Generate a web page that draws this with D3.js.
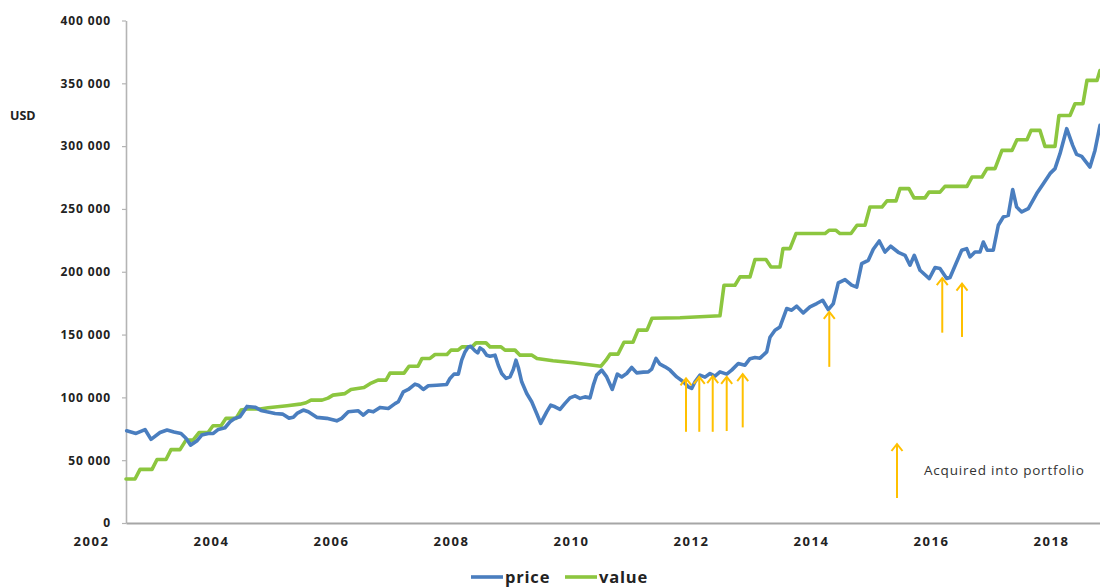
<!DOCTYPE html>
<html>
<head>
<meta charset="utf-8">
<script src="https://cdn.jsdelivr.net/npm/d3@7"></script>
<style>
    body { margin: 0; background: #fff; }
    #chart { width: 1100px; height: 588px; }
    text { font-family: "Open Sans", "DejaVu Sans", sans-serif; }
</style>
</head>
<body>
<div id="chart"></div>
<script>
// ==========================================
// Price vs portfolio value (USD), 2002 - 2018
// ==========================================

// 1. DATA (decimal years)
const priceYears = [2002.545,2002.70,2002.85,2002.95,2003.10,2003.217,2003.333,2003.45,2003.533,2003.608,
    2003.712,2003.795,2003.905,2003.988,2004.072,2004.183,2004.267,2004.35,2004.433,2004.55,
    2004.683,2004.783,2004.883,2005.017,2005.142,2005.25,2005.322,2005.383,2005.488,2005.572,
    2005.712,2005.878,2006.045,2006.128,2006.238,2006.405,2006.488,2006.572,2006.655,2006.767,
    2006.905,2007.017,2007.072,2007.155,2007.238,2007.35,2007.405,2007.488,2007.572,2007.712,
    2007.878,2007.933,2008.0,2008.072,2008.128,2008.183,2008.238,2008.278,2008.35,2008.395,
    2008.433,2008.488,2008.545,2008.6,2008.683,2008.738,2008.795,2008.867,2008.933,2008.988,
    2009.033,2009.072,2009.128,2009.212,2009.295,2009.378,2009.445,2009.488,2009.545,2009.612,
    2009.683,2009.767,2009.85,2009.933,2010.017,2010.1,2010.183,2010.267,2010.322,2010.378,
    2010.462,2010.545,2010.638,2010.722,2010.795,2010.878,2010.962,2011.045,2011.155,2011.238,
    2011.295,2011.367,2011.433,2011.517,2011.6,2011.712,2011.822,2011.905,2011.962,2012.017,
    2012.1,2012.183,2012.267,2012.35,2012.433,2012.545,2012.628,2012.738,2012.85,2012.933,
    2013.017,2013.1,2013.212,2013.267,2013.35,2013.433,2013.545,2013.628,2013.712,2013.822,
    2013.933,2014.045,2014.145,2014.238,2014.322,2014.405,2014.517,2014.628,2014.712,2014.795,
    2014.905,2014.988,2015.088,2015.183,2015.278,2015.405,2015.517,2015.6,2015.672,2015.767,
    2015.922,2016.017,2016.1,2016.212,2016.267,2016.367,2016.462,2016.545,2016.6,2016.683,
    2016.767,2016.822,2016.888,2016.988,2017.072,2017.155,2017.238,2017.312,2017.378,2017.462,
    2017.572,2017.712,2017.822,2017.933,2018.017,2018.1,2018.212,2018.312,2018.378,2018.462,
    2018.6,2018.683,2018.767];

const priceValues = [73400,71300,74400,66600,72000,74000,72400,71300,67400,62000,
    65200,70000,71300,71300,74500,75800,80600,83300,84500,92800,
    92200,89600,88500,87200,86700,83500,84100,87200,89900,88500,
    84100,83300,81300,83300,88500,89300,85900,89300,88500,92000,
    91200,95000,96500,104400,106300,110500,109700,106300,109200,109700,
    110300,115100,118500,118500,129600,136200,140200,140700,137000,135400,
    139400,137600,133600,132800,133600,125600,119000,115100,116300,122200,
    129600,123800,112400,103100,96500,87200,79300,83300,88500,93800,
    92500,90400,95200,99600,101200,99200,100400,99600,109700,117700,
    121700,116300,106300,118500,116300,119000,123800,119500,120100,120300,
    122500,131000,126400,124300,121700,116300,112400,108400,107100,112400,
    117700,116100,119000,116900,120300,118500,121700,127000,125600,130800,
    131800,131200,136200,147900,153500,156100,170700,169400,172600,167200,
    172000,174700,177300,169900,174700,191100,193800,189300,187700,206500,
    209100,217900,224500,215700,220300,215500,213100,205200,213100,201200,
    194600,203300,202500,194600,195400,206500,217100,218400,211800,215700,
    215700,223700,217100,217100,237000,243600,244900,265400,251500,247600,
    250200,262200,270100,278100,282100,294000,313900,300600,293400,291800,
    283300,296600,316500];

const valueYears = [2002.533,2002.683,2002.767,2002.967,2003.05,2003.2,2003.283,2003.433,2003.533,2003.65,
    2003.75,2003.9,2003.983,2004.117,2004.2,2004.367,2004.45,2004.55,2004.767,2004.9,
    2005.217,2005.433,2005.533,2005.617,2005.8,2005.9,2005.983,2006.183,2006.283,2006.5,
    2006.6,2006.733,2006.867,2006.933,2007.167,2007.25,2007.4,2007.467,2007.6,2007.683,
    2007.883,2007.95,2008.067,2008.133,2008.3,2008.367,2008.533,2008.6,2008.783,2008.85,
    2009.017,2009.1,2009.3,2009.383,2009.65,2009.983,2010.317,2010.45,2010.533,2010.6,
    2010.733,2010.833,2010.983,2011.067,2011.217,2011.3,2011.767,2012.433,2012.5,2012.683,
    2012.767,2012.933,2013.017,2013.2,2013.283,2013.433,2013.483,2013.6,2013.7,2014.183,
    2014.25,2014.367,2014.433,2014.617,2014.717,2014.85,2014.933,2015.133,2015.217,2015.367,
    2015.433,2015.583,2015.667,2015.85,2015.917,2016.1,2016.183,2016.55,2016.633,2016.8,
    2016.883,2017.017,2017.133,2017.3,2017.383,2017.55,2017.617,2017.767,2017.85,2018.017,
    2018.083,2018.267,2018.35,2018.483,2018.55,2018.717,2018.767];

const valueValues = [35000,35000,42700,42700,50500,50500,58400,58400,66000,66000,
    72000,72000,77400,77400,83300,83300,89900,90700,90700,91700,
    93300,94600,95700,97800,97800,99400,101800,103000,106200,107800,
    110900,113700,113700,119300,119300,124800,124800,131000,131000,134100,
    134100,137600,137600,140200,140200,143400,143400,140200,140200,137600,
    137600,133600,133600,131000,129100,127500,125600,124800,129600,134400,
    134400,143900,143900,153500,153500,163000,163400,165000,189300,189300,
    195900,195900,209700,209700,203800,203800,218400,218400,230400,230400,
    233000,233000,230400,230400,237000,237000,251500,251500,256400,256400,
    266200,266200,258800,258800,263400,263400,268000,268000,275400,275400,
    282100,282100,296600,296600,305100,305100,312500,312500,299800,299800,
    324400,324400,333700,333700,352300,352300,360200];

// acquisition arrows: where they point (tip) and where the shaft starts (tail)
const acqYears = [2011.867, 2012.088, 2012.312, 2012.545, 2012.812, 2014.255, 2016.138, 2016.467];
const acqTip = [115100, 116300, 116900, 116300, 118500, 168000, 195000, 190600];
const acqTail = [72600, 72600, 72600, 73200, 76100, 124300, 151500, 148100];

const yearTicks = [2002, 2004, 2006, 2008, 2010, 2012, 2014, 2016, 2018];
const usdTicks = [0, 50000, 100000, 150000, 200000, 250000, 300000, 350000, 400000];

const seriesNames = ["price", "value"];
const seriesColors = ["#4a7ebf", "#8cc63f"];
const arrowColor = "#ffc000";

const price = priceYears.map(function(t, i){ return { t: t, v: priceValues[i] }; });
const value = valueYears.map(function(t, i){ return { t: t, v: valueValues[i] }; });

// 2. SVG SETUP
const W = 1100, H = 588;
const plot = { left: 126, right: 1100, top: 20.5, bottom: 523 };

const svg = d3.select("#chart")
    .append("svg")
    .attr("width", W)
    .attr("height", H);

// 3. SCALES
const x = d3.scaleLinear()
    .domain([2002.533, 2018.767])
    .range([plot.left, plot.right]);

const y = d3.scaleLinear()
    .domain([0, 400000])
    .range([plot.bottom, plot.top]);

const spaceFmt = d3.formatLocale({ decimal: ".", thousands: " ", grouping: [3], currency: ["", ""] }).format(",");

// 4. AXES
const yAxis = svg.append("g")
    .attr("transform", "translate(" + plot.left + ",0)")
    .call(d3.axisLeft(y).tickValues(usdTicks).tickFormat(spaceFmt).tickSize(4).tickSizeOuter(0).tickPadding(11));

yAxis.select(".domain").attr("stroke", "#b4b4b4").attr("stroke-width", 1.6);
yAxis.selectAll(".tick line").attr("stroke", "#b4b4b4").attr("stroke-width", 1.2);
yAxis.selectAll(".tick text")
    .style("font-size", "12px")
    .style("font-weight", "bold")
    .style("letter-spacing", "0.9px")
    .attr("fill", "#222");

const xAxis = svg.append("g")
    .attr("transform", "translate(0," + plot.bottom + ")")
    .call(d3.axisBottom(x).tickValues(yearTicks).tickFormat(d3.format("d")).tickSize(0).tickSizeOuter(0).tickPadding(14));

xAxis.select(".domain").attr("stroke", "#a6a6a6").attr("stroke-width", 2.2);
xAxis.selectAll(".tick text")
    .attr("dx", "-3px")
    .style("font-size", "13px")
    .style("font-weight", "bold")
    .style("letter-spacing", "1.6px")
    .attr("fill", "#222");

svg.append("text")
    .attr("x", 10)
    .attr("y", 120)
    .style("font-size", "12.5px")
    .style("font-weight", "bold")
    .attr("fill", "#222")
    .text("USD");

// 5. LINES
const line = d3.line()
    .x(function(d){ return x(d.t); })
    .y(function(d){ return y(d.v); });

[value, price].forEach(function(series, i){
    svg.append("path")
        .datum(series)
        .attr("d", line)
        .attr("fill", "none")
        .attr("stroke", seriesColors[1 - i])
        .attr("stroke-width", 3.6)
        .attr("stroke-linejoin", "round")
        .attr("stroke-linecap", "round");
});

// 6. ACQUISITION ARROWS
function drawArrow(g, x0, yTip, yTail) {
    g.append("line")
        .attr("x1", x0).attr("y1", yTail)
        .attr("x2", x0).attr("y2", yTip)
        .attr("stroke", arrowColor)
        .attr("stroke-width", 2);
    g.append("path")
        .attr("d", "M" + (x0 - 5.5) + "," + (yTip + 7) + "L" + x0 + "," + yTip + "L" + (x0 + 5.5) + "," + (yTip + 7))
        .attr("fill", "none")
        .attr("stroke", arrowColor)
        .attr("stroke-width", 2);
}

const arrows = svg.append("g");
acqYears.forEach(function(t, i){
    drawArrow(arrows, x(t), y(acqTip[i]), y(acqTail[i]));
});

// arrow key
const key = svg.append("g").attr("transform", "translate(897,444)");
drawArrow(key, 0, 0, 54);
key.append("text")
    .attr("x", 27)
    .attr("y", 31)
    .style("font-size", "13.5px")
    .style("letter-spacing", "0.8px")
    .attr("fill", "#333")
    .text("Acquired into portfolio");

// 7. LEGEND
const legendX = [471, 565];
const legend = svg.append("g").attr("transform", "translate(0,577)");

seriesNames.forEach(function(name, i){
    legend.append("line")
        .attr("x1", legendX[i]).attr("x2", legendX[i] + 32)
        .attr("y1", 0).attr("y2", 0)
        .attr("stroke", seriesColors[i])
        .attr("stroke-width", 3.6);
    legend.append("text")
        .attr("x", legendX[i] + 34)
        .attr("y", 5.5)
        .style("font-size", "16.5px")
        .style("font-weight", "bold")
        .style("letter-spacing", "0.8px")
        .attr("fill", "#222")
        .text(name);
});
</script>
</body>
</html>
